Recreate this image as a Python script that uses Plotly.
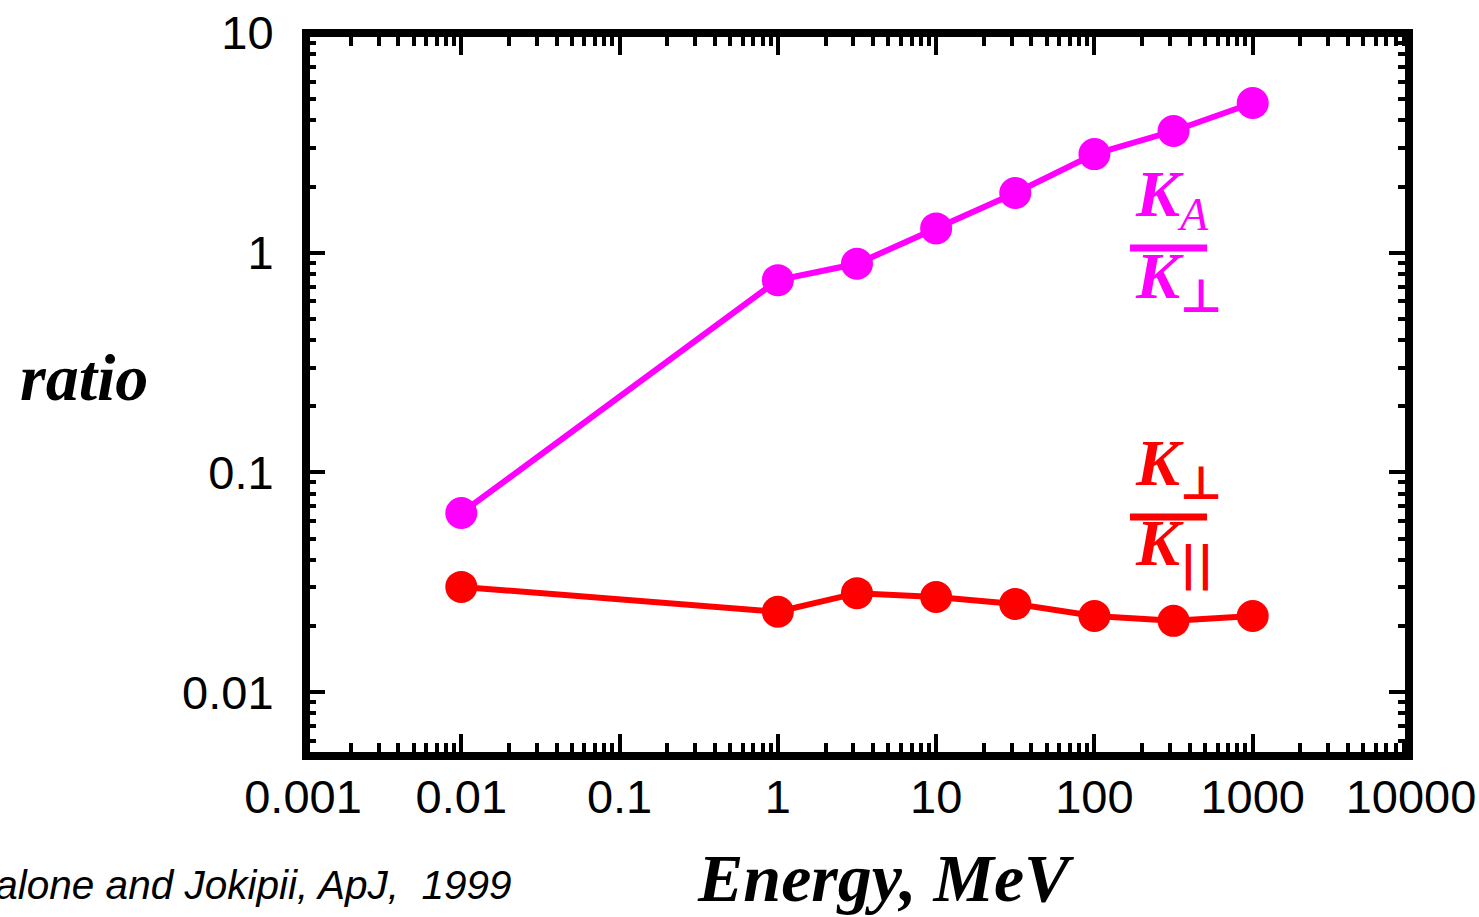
import plotly.graph_objects as go

# Energy (MeV) and diffusion coefficient ratios
energy = [0.01, 1, 3.16, 10, 31.6, 100, 316, 1000]
ratio_ka_kperp = [0.0653, 0.75, 0.89, 1.29, 1.87, 2.81, 3.58, 4.80]
ratio_kperp_kpar = [0.0301, 0.0232, 0.0282, 0.0271, 0.0252, 0.0222, 0.0211, 0.0222]

x_ticks = [0.001, 0.01, 0.1, 1, 10, 100, 1000, 10000]
x_ticktext = ["0.001", "0.01", "0.1", "1", "10", "100", "1000", "10000"]
y_ticks = [0.01, 0.1, 1, 10]
y_ticktext = ["0.01", "0.1", "1", "10"]

MAGENTA = "#FF00FF"
RED = "#FF0000"
SERIF = "Liberation Serif, Times New Roman, serif"
SANS = "Liberation Sans, Arial, sans-serif"

W, H = 1479, 917
L, R, T, B = 303, 1411, 33, 756

PERP = "<span style=\"font-family:'DejaVu Sans';font-weight:bold\">⊥</span>"
PAR = "<span style=\"font-family:'DejaVu Sans';font-weight:bold\">||</span>"


def px(xp):
    return (xp - L) / (R - L)


def py(yp):
    return (B - yp) / (B - T)


fig = go.Figure()
fig.add_trace(go.Scatter(
    x=energy, y=ratio_ka_kperp, mode="lines+markers",
    line=dict(color=MAGENTA, width=6),
    marker=dict(color=MAGENTA, size=32, symbol="circle"),
    showlegend=False,
))
fig.add_trace(go.Scatter(
    x=energy, y=ratio_kperp_kpar, mode="lines+markers",
    line=dict(color=RED, width=6),
    marker=dict(color=RED, size=32, symbol="circle"),
    showlegend=False,
))

axis_common = dict(
    type="log",
    automargin=False,
    showgrid=False,
    zeroline=False,
    showline=True,
    linecolor="black",
    linewidth=1,
    mirror="allticks",
    ticks="inside",
    ticklen=22,
    tickwidth=4,
    tickcolor="black",
    tickfont=dict(family=SANS, size=47, color="black"),
    minor=dict(ticks="inside", ticklen=13, tickwidth=4, tickcolor="black",
               dtick="D1", showgrid=False),
)

fig.update_xaxes(
    **axis_common,
    range=[-3, 4],
    tickmode="array", tickvals=x_ticks, ticktext=x_ticktext,
    ticklabelstandoff=0,
)
fig.update_yaxes(
    **axis_common,
    range=[-2.291, 1],
    tickmode="array", tickvals=y_ticks, ticktext=y_ticktext,
    ticklabelstandoff=19,
)

annotations = [
    # axis titles
    dict(x=px(84), y=py(377), xanchor="center", yanchor="middle",
         text="<b><i>ratio</i></b>",
         font=dict(family=SERIF, size=66, color="black")),
    dict(x=px(885), y=py(878), xanchor="center", yanchor="middle",
         text="<b><i>Energy, MeV</i></b>",
         font=dict(family=SERIF, size=68, color="black")),
    # citation
    dict(x=px(514), y=py(885), xanchor="right", yanchor="middle",
         text="<i>Giacalone and Jokipii, ApJ,  1999</i>",
         font=dict(family=SANS, size=40.5, color="black")),
    # K_A / K_perp
    dict(x=px(1133), y=py(242), xanchor="left", yanchor="bottom",
         text="<b><i>K</i></b><sub><i>A</i></sub>",
         font=dict(family=SERIF, size=66, color=MAGENTA)),
    dict(x=px(1133), y=py(325), xanchor="left", yanchor="bottom",
         text="<b><i>K</i></b><sub>" + PERP + "</sub>",
         font=dict(family=SERIF, size=66, color=MAGENTA)),
    # K_perp / K_par
    dict(x=px(1133), y=py(512), xanchor="left", yanchor="bottom",
         text="<b><i>K</i></b><sub>" + PERP + "</sub>",
         font=dict(family=SERIF, size=66, color=RED)),
    dict(x=px(1133), y=py(593), xanchor="left", yanchor="bottom",
         text="<b><i>K</i></b><sub>" + PAR + "</sub>",
         font=dict(family=SERIF, size=66, color=RED)),
]
for a in annotations:
    a.setdefault("xref", "paper")
    a.setdefault("yref", "paper")
    a.setdefault("showarrow", False)
fig.update_layout(annotations=annotations)

# fraction bars
fig.add_shape(type="line", xref="paper", yref="paper",
              x0=px(1130), x1=px(1207), y0=py(248), y1=py(248),
              line=dict(color=MAGENTA, width=7))
fig.add_shape(type="line", xref="paper", yref="paper",
              x0=px(1130), x1=px(1207), y0=py(517), y1=py(517),
              line=dict(color=RED, width=7))

# heavy plot frame
fig.add_shape(type="rect", xref="paper", yref="paper",
              x0=px(306), x1=px(1409), y0=py(756), y1=py(33),
              line=dict(color="black", width=8), layer="above")

fig.update_layout(
    width=W, height=H,
    margin=dict(l=L, r=W - R, t=T, b=H - B, pad=0, autoexpand=False),
    paper_bgcolor="white",
    plot_bgcolor="white",
    showlegend=False,
)

fig.write_html("out.html")
